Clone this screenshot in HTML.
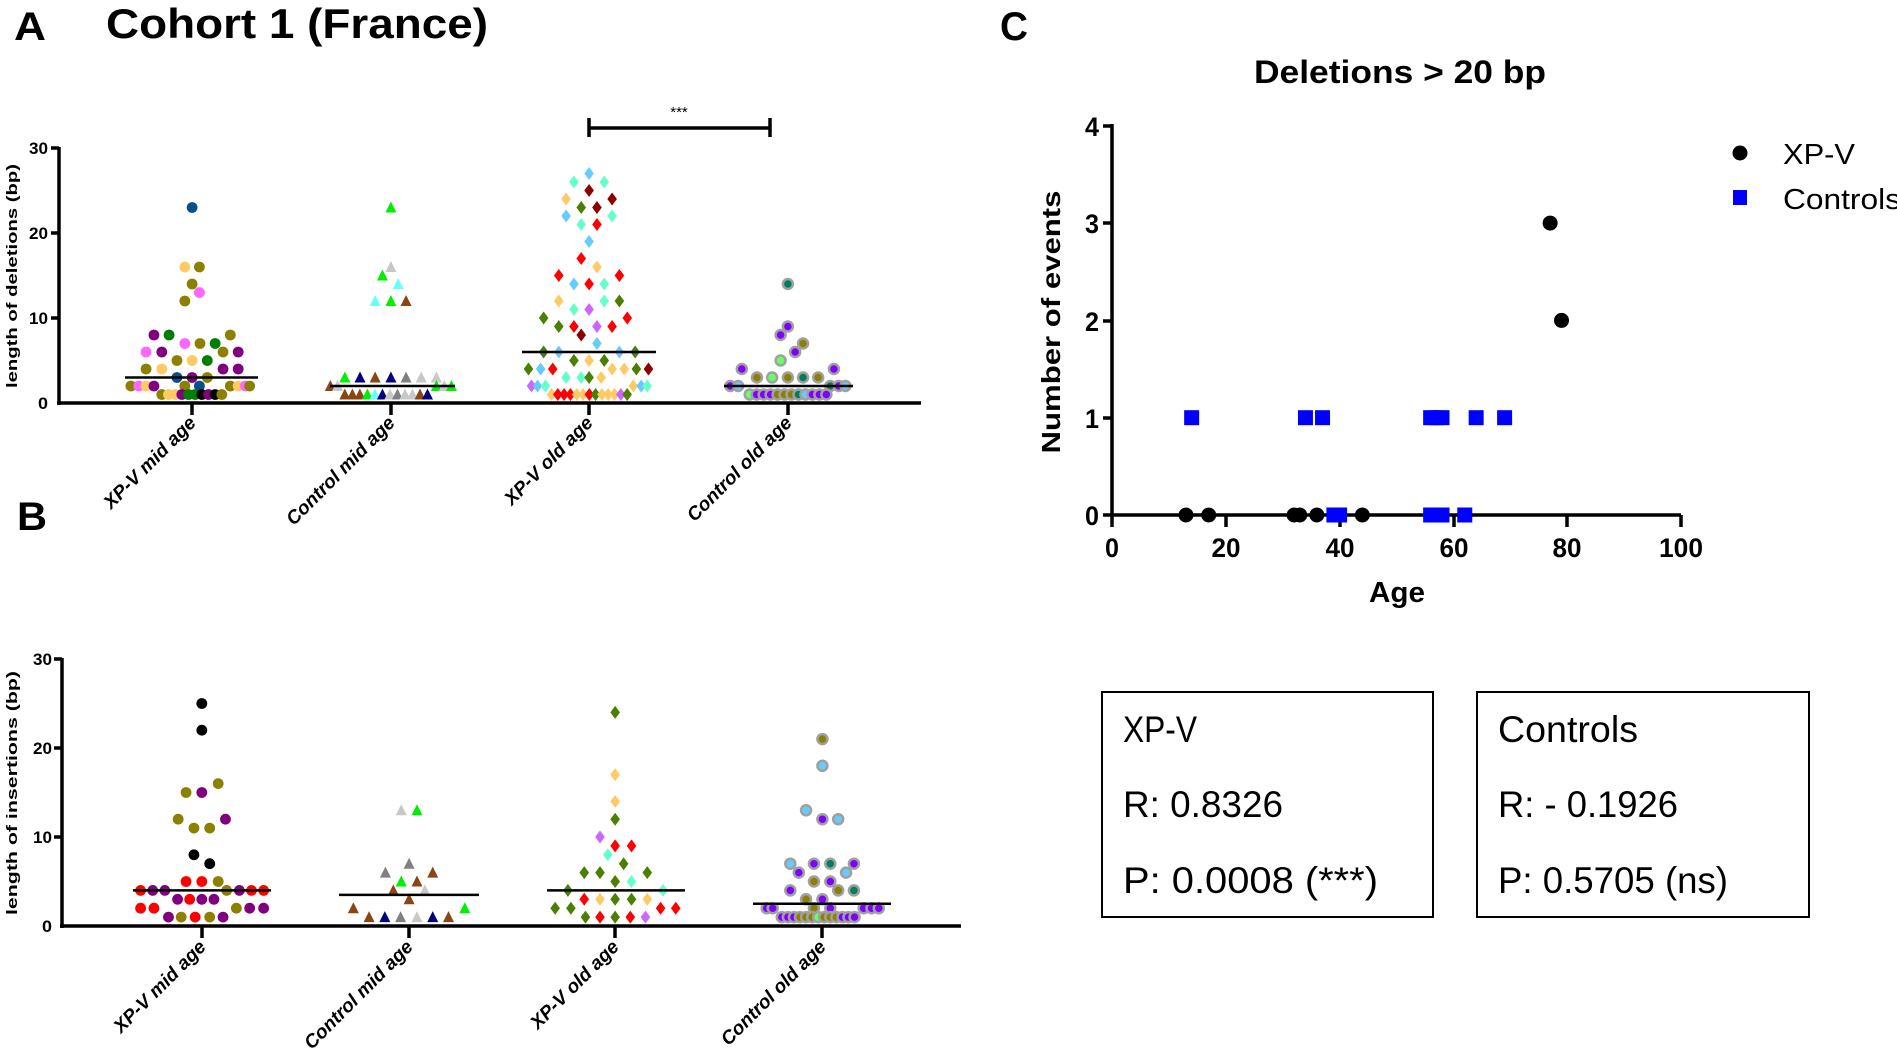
<!DOCTYPE html>
<html><head><meta charset="utf-8">
<style>
html,body{margin:0;padding:0;background:#fff;}
svg{display:block;}
text{font-family:"Liberation Sans",sans-serif;}
</style></head>
<body>
<svg id="s" width="1897" height="1057" viewBox="0 0 1897 1057" xmlns="http://www.w3.org/2000/svg">
<rect width="1897" height="1057" fill="#fff"/>
<text x="14" y="40" font-size="40" font-weight="bold" textLength="32" lengthAdjust="spacingAndGlyphs">A</text>
<text x="106" y="38" font-size="42" font-weight="bold" textLength="382" lengthAdjust="spacingAndGlyphs">Cohort 1 (France)</text>
<text x="17" y="530" font-size="40" font-weight="bold" textLength="30" lengthAdjust="spacingAndGlyphs">B</text>
<text x="1000" y="40" font-size="40" font-weight="bold" textLength="28" lengthAdjust="spacingAndGlyphs">C</text>

<g stroke="#000" stroke-width="3.5" fill="none">
<line x1="59" y1="147" x2="59" y2="405"/>
<line x1="57" y1="403" x2="921" y2="403"/>
<line x1="51" y1="148" x2="59" y2="148"/><line x1="51" y1="233" x2="59" y2="233"/><line x1="51" y1="318" x2="59" y2="318"/>
<line x1="192" y1="403" x2="192" y2="415"/><line x1="391" y1="403" x2="391" y2="415"/><line x1="589" y1="403" x2="589" y2="415"/><line x1="788" y1="403" x2="788" y2="415"/>
<line x1="589" y1="128" x2="770" y2="128"/><line x1="589" y1="118" x2="589" y2="137"/><line x1="770" y1="118" x2="770" y2="137"/>
</g>
<text x="679" y="117" font-size="15" text-anchor="middle">***</text>
<g font-size="17" font-weight="bold" text-anchor="end">
<text x="48" y="154" textLength="19" lengthAdjust="spacingAndGlyphs">30</text>
<text x="48" y="239" textLength="19" lengthAdjust="spacingAndGlyphs">20</text>
<text x="48" y="324" textLength="19" lengthAdjust="spacingAndGlyphs">10</text>
<text x="48" y="409" textLength="10" lengthAdjust="spacingAndGlyphs">0</text>
</g>
<text transform="translate(17,276) rotate(-90)" font-size="15" font-weight="bold" text-anchor="middle" textLength="224" lengthAdjust="spacingAndGlyphs">length of deletions (bp)</text>
<g font-size="19" font-weight="bold" font-style="italic" text-anchor="end">
<text transform="translate(197,424) rotate(-45)">XP-V mid age</text>
<text transform="translate(396,424) rotate(-45)">Control mid age</text>
<text transform="translate(594,424) rotate(-45)">XP-V old age</text>
<text transform="translate(793,424) rotate(-45)">Control old age</text>
</g>

<g stroke="#000" stroke-width="3.5" fill="none">
<line x1="62" y1="658" x2="62" y2="928"/>
<line x1="60" y1="926" x2="961" y2="926"/>
<line x1="54" y1="659" x2="62" y2="659"/><line x1="54" y1="748" x2="62" y2="748"/><line x1="54" y1="837" x2="62" y2="837"/>
<line x1="202" y1="926" x2="202" y2="938"/><line x1="409" y1="926" x2="409" y2="938"/><line x1="615" y1="926" x2="615" y2="938"/><line x1="822" y1="926" x2="822" y2="938"/>
</g>
<g font-size="17" font-weight="bold" text-anchor="end">
<text x="52" y="665" textLength="19" lengthAdjust="spacingAndGlyphs">30</text>
<text x="52" y="754" textLength="19" lengthAdjust="spacingAndGlyphs">20</text>
<text x="52" y="843" textLength="19" lengthAdjust="spacingAndGlyphs">10</text>
<text x="52" y="932" textLength="10" lengthAdjust="spacingAndGlyphs">0</text>
</g>
<text transform="translate(17,793) rotate(-90)" font-size="15" font-weight="bold" text-anchor="middle" textLength="244" lengthAdjust="spacingAndGlyphs">length of insertions (bp)</text>
<g font-size="19" font-weight="bold" font-style="italic" text-anchor="end">
<text transform="translate(207,948) rotate(-45)">XP-V mid age</text>
<text transform="translate(414,948) rotate(-45)">Control mid age</text>
<text transform="translate(620,948) rotate(-45)">XP-V old age</text>
<text transform="translate(827,948) rotate(-45)">Control old age</text>
</g>

<text x="1400" y="83" font-size="32" font-weight="bold" text-anchor="middle" textLength="292" lengthAdjust="spacingAndGlyphs">Deletions &gt; 20 bp</text>
<g stroke="#000" stroke-width="3.5" fill="none">
<line x1="1112" y1="124" x2="1112" y2="527"/>
<line x1="1110" y1="515" x2="1681" y2="515"/>
<line x1="1103" y1="126" x2="1112" y2="126"/><line x1="1103" y1="223" x2="1112" y2="223"/><line x1="1103" y1="321" x2="1112" y2="321"/><line x1="1103" y1="418" x2="1112" y2="418"/><line x1="1103" y1="515" x2="1112" y2="515"/>
<line x1="1226" y1="515" x2="1226" y2="527"/><line x1="1340" y1="515" x2="1340" y2="527"/><line x1="1454" y1="515" x2="1454" y2="527"/><line x1="1567" y1="515" x2="1567" y2="527"/><line x1="1681" y1="515" x2="1681" y2="527"/>
</g>
<g font-size="27" font-weight="bold" text-anchor="end">
<text x="1099" y="136" textLength="14" lengthAdjust="spacingAndGlyphs">4</text>
<text x="1099" y="233" textLength="14" lengthAdjust="spacingAndGlyphs">3</text>
<text x="1099" y="331" textLength="14" lengthAdjust="spacingAndGlyphs">2</text>
<text x="1099" y="428" textLength="14" lengthAdjust="spacingAndGlyphs">1</text>
<text x="1099" y="525" textLength="14" lengthAdjust="spacingAndGlyphs">0</text>
</g>
<g font-size="27" font-weight="bold" text-anchor="middle">
<text x="1112" y="557" textLength="14" lengthAdjust="spacingAndGlyphs">0</text>
<text x="1226" y="557" textLength="29" lengthAdjust="spacingAndGlyphs">20</text>
<text x="1340" y="557" textLength="29" lengthAdjust="spacingAndGlyphs">40</text>
<text x="1454" y="557" textLength="29" lengthAdjust="spacingAndGlyphs">60</text>
<text x="1567" y="557" textLength="29" lengthAdjust="spacingAndGlyphs">80</text>
<text x="1681" y="557" textLength="44" lengthAdjust="spacingAndGlyphs">100</text>
</g>
<text x="1397" y="602" font-size="29" font-weight="bold" text-anchor="middle" textLength="56" lengthAdjust="spacingAndGlyphs">Age</text>
<text transform="translate(1060,322) rotate(-90)" font-size="26" font-weight="bold" text-anchor="middle" textLength="263" lengthAdjust="spacingAndGlyphs">Number of events</text>
<circle cx="1740" cy="153" r="7.5" fill="#000"/>
<text x="1783" y="164" font-size="29" textLength="72" lengthAdjust="spacingAndGlyphs">XP-V</text>
<rect x="1733" y="190" width="14" height="15" fill="#0000ff"/>
<text x="1783" y="209" font-size="29" textLength="118" lengthAdjust="spacingAndGlyphs">Controls</text>

<rect x="1102" y="692" width="331" height="225" fill="none" stroke="#000" stroke-width="2"/>
<rect x="1477" y="692" width="332" height="225" fill="none" stroke="#000" stroke-width="2"/>
<g font-size="37">
<text x="1123" y="742" textLength="74" lengthAdjust="spacingAndGlyphs">XP-V</text>
<text x="1123" y="817" textLength="160" lengthAdjust="spacingAndGlyphs">R: 0.8326</text>
<text x="1123" y="893" textLength="255" lengthAdjust="spacingAndGlyphs">P: 0.0008 (***)</text>
<text x="1498" y="742" textLength="140" lengthAdjust="spacingAndGlyphs">Controls</text>
<text x="1498" y="817" textLength="180" lengthAdjust="spacingAndGlyphs">R: - 0.1926</text>
<text x="1498" y="893" textLength="230" lengthAdjust="spacingAndGlyphs">P: 0.5705 (ns)</text>
</g>
<g id="dyn"></g>
</svg>
<script>
(function(){
var NS="http://www.w3.org/2000/svg",g=document.getElementById("dyn");
function el(t,a){var e=document.createElementNS(NS,t);for(var k in a)e.setAttribute(k,a[k]);g.appendChild(e);return e;}
var C={nv:"#0a4f8a",or:"#ffc966",ol:"#8b8000",pk:"#ff66ff",pu:"#800080",gr:"#007f00",bk:"#000",rd:"#ff0000",
lg:"#c8c8c8",gy:"#808080",cy:"#66ffff",br:"#8b4513",na:"#000080",g2:"#00ee00",lb:"#66ccff",aq:"#66ffcc",dr:"#8b0000",
og:"#4a7f00",vi:"#cc66ff",dg:"#007f5f",vp:"#8000ff",lgr:"#66ff66"};
function mk(shape,x,y,c){
 if(shape=="c")el("circle",{cx:x,cy:y,r:5.4,fill:c});
 else if(shape=="o")el("circle",{cx:x,cy:y,r:5,fill:c,stroke:"#a0a0a0","stroke-width":2.5});
 else if(shape=="t")el("polygon",{points:(x-5.5)+","+(y+5)+" "+(x+5.5)+","+(y+5)+" "+x+","+(y-6),fill:c});
 else el("polygon",{points:x+","+(y-6.5)+" "+(x+4.8)+","+y+" "+x+","+(y+6.5)+" "+(x-4.8)+","+y,fill:c});
}
function panel(sx,y0,k,data,shape){
 data.forEach(function(r){var v=r[0];for(var i=1;i<r.length;i+=2)mk(shape,r[i]/sx,y0-k*v,C[r[i+1]]);});
}
function seq(v,start,step,cols){var r=[v];cols.forEach(function(c,i){r.push(start+i*step,c);});return r;}
var A0=403,Ak=8.5,S=1.65;
panel(S,A0,Ak,[[23,317,"nv"],[16,305,"or",329,"ol"],[14,317,"ol"],[13,329,"pk"],[12,305,"ol"],
[8,254,"pu",279,"gr",380,"ol"],[7,305,"pk",330,"ol",355,"gr"],[6,241,"pk",267,"pu",368,"ol",393,"pu"],
[5,292,"ol",317,"or",342,"gr"],[4,241,"ol",267,"or",368,"pu",393,"pu"],[3,292,"nv",317,"pu",342,"ol"],
[2,216,"ol",229,"pk",241,"or",254,"pu",305,"ol",329,"nv",380,"ol",393,"or",405,"pk",412,"ol"],
seq(1,267,11,["ol","or","or","pu","gr","gr","bk","pu","bk","ol"])],"c");
panel(S,A0,Ak,[[23,645,"g2"],[16,645,"lg"],[15,631,"g2"],[14,657,"cy"],[12,619,"cy",645,"g2",670,"br"],
[3,569,"g2",594,"na",619,"br",645,"na",670,"gy",695,"lg",720,"lg"],[2,545,"br",557,"lg",720,"g2",733,"lg",745,"g2"],
seq(1,569,12.4,["br","br","br","g2","cy","na","lg","gy","lg","lg","br","na"])],"t");
panel(S,A0,Ak,[[27,972,"lb"],[26,947,"aq",997,"aq"],[25,972,"dr"],[24,934,"or",1010,"dr"],[23,959,"og",985,"dr"],
[22,934,"lb",1010,"aq"],[21,959,"aq",985,"rd"],[19,972,"lb"],[17,959,"rd"],[16,985,"or"],[15,922,"rd",1022,"rd"],
[14,947,"lb",972,"rd",997,"aq"],[12,922,"or",997,"aq",1022,"og"],[11,947,"aq",972,"vi"],[10,897,"og",1035,"rd"],
[9,922,"og",947,"rd",985,"vi",1010,"rd"],[8,959,"dr"],[7,985,"lb"],[6,897,"og",922,"lb",1022,"lb",1048,"og"],
[5,947,"og",972,"or",997,"og"],[4,872,"og",892,"lb",912,"rd",1010,"or",1030,"or",1050,"og",1070,"dr"],
[3,934,"aq",959,"aq",972,"og",992,"or"],[2,877,"vi",887,"lb",900,"aq",1045,"or",1058,"lb",1068,"aq"],
seq(1,910,10.4,["or","rd","rd","rd","or","or","rd","og","or","or","or","vi","og"])],"d");
panel(S,A0,Ak,[[14,1300,"dg"],[9,1300,"vp"],[8,1288,"vp"],[7,1325,"ol"],[6,1312,"vp"],[5,1288,"lgr"],
[4,1224,"vp",1376,"vp"],[3,1249,"ol",1274,"lgr",1300,"ol",1325,"dg",1350,"ol"],
[2,1205,"vp",1218,"lb",1370,"dg",1384,"vp",1395,"lb"],
seq(1,1237,11.5,["lgr","vp","vp","vp","ol","ol","ol","dg","lb","vp","vp","vp"])],"o");
var B0=926,Bk=8.9;
panel(S,B0,Bk,[[25,333,"bk"],[22,333,"bk"],[16,360,"ol"],[15,307,"ol",333,"pu"],[12,294,"ol",372,"pu"],[11,320,"ol",346,"ol"],
[8,320,"bk"],[7,346,"bk"],[5,307,"rd",333,"rd",360,"ol"],[4,232,"rd",252,"pu",272,"pu",374,"ol",395,"pu",415,"rd",435,"rd"],
[3,293,"pu",313,"rd",333,"pu",353,"pu"],[2,232,"rd",254,"rd",390,"ol",412,"pu",435,"pu"],[1,278,"pu",299,"ol",322,"rd",346,"ol",368,"pu"]],"c");
panel(S,B0,Bk,[[13,662,"lg",688,"g2"],[7,675,"gy"],[6,636,"gy",714,"br"],[5,662,"g2",688,"br"],[4,649,"br",701,"lg"],[3,675,"br"],
[2,583,"br",767,"g2"],[1,609,"br",635,"na",661,"gy",688,"lg",714,"na",740,"br"]],"t");
panel(S,B0,Bk,[[24,1015,"og"],[17,1015,"or"],[14,1015,"or"],[12,1015,"og"],[10,990,"vi"],[9,1015,"rd",1042,"rd"],[8,1003,"aq"],[7,1029,"og"],
[6,964,"og",990,"og",1068,"og"],[5,1015,"og",1042,"aq"],[4,937,"og",1094,"aq"],[3,964,"rd",990,"or",1015,"og",1042,"og",1068,"or"],
[2,916,"og",942,"og",1090,"rd",1115,"rd"],[1,966,"og",990,"rd",1015,"og",1040,"rd",1065,"vi"]],"d");
panel(S,B0,Bk,[[21,1357,"ol"],[18,1357,"lb"],[13,1330,"lb"],[12,1357,"vp",1383,"lb"],[7,1304,"lb",1343,"vp",1370,"dg",1409,"vp"],
[6,1318,"vp",1396,"lb"],[5,1343,"ol",1370,"vp"],[4,1304,"vp",1383,"ol",1409,"dg"],[3,1330,"ol",1357,"vp"],
[2,1265,"vp",1275,"vp",1343,"ol",1370,"vp",1425,"vp",1438,"vp",1450,"vp"],
seq(1,1290,10,["vp","vp","vp","ol","ol","ol","lgr","ol","ol","ol","vp","vp","vp"])],"o");
[[125,258,A0-Ak*3],[330,455,A0-Ak*2],[522,656,A0-Ak*6],[724,853,A0-Ak*2],
 [133,271,B0-Bk*4],[339,479,B0-Bk*3.5],[547,685,B0-Bk*4],[753,891,B0-Bk*2.5]].forEach(function(m){
 el("line",{x1:m[0],x2:m[1],y1:m[2],y2:m[2],stroke:"#000","stroke-width":2.5});});
function cx(a){return 1112+5.69*a;} function cy(v){return 515-97.3*v;}
[[14,1],[34,1],[37,1],[56,1],[57,1],[58,1],[64,1],[69,1],[39,0],[40,0],[56,0],[57,0],[58,0],[62,0]].forEach(function(p){
 el("rect",{x:cx(p[0])-7.5,y:cy(p[1])-7.5,width:15,height:15,fill:"#0000ff"});});
[[13,0],[17,0],[32,0],[33,0],[36,0],[44,0],[77,3],[79,2]].forEach(function(p){
 el("circle",{cx:cx(p[0]),cy:cy(p[1]),r:7.5,fill:"#000"});});
})();
</script>
</body></html>
